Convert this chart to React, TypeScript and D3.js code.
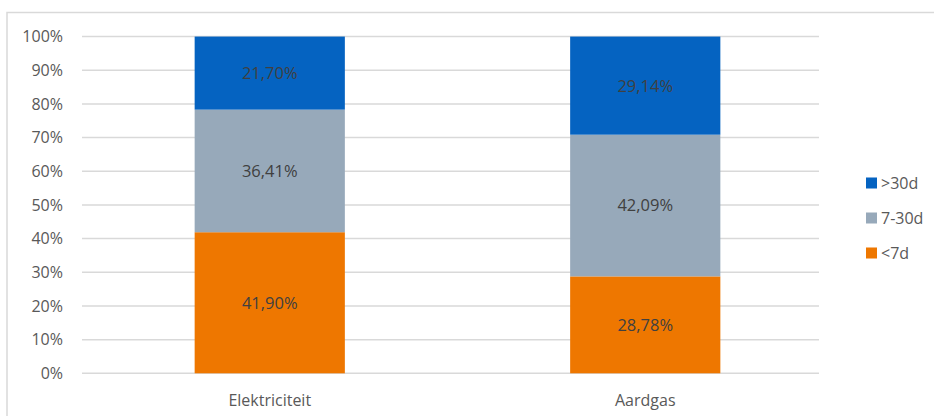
import React from "react";
import * as d3 from "d3";

const categories = ["Elektriciteit", "Aardgas"];
const seriesNames = ["<7d", "7-30d", ">30d"];
const lt7 = [41.9, 28.78];
const d7to30 = [36.41, 42.09];
const gt30 = [21.7, 29.14];
const labelsLt7 = ["41,90%", "28,78%"];
const labels7to30 = ["36,41%", "42,09%"];
const labelsGt30 = ["21,70%", "29,14%"];
const yTicks = [0, 10, 20, 30, 40, 50, 60, 70, 80, 90, 100];
const colors = ["#EE7700", "#97A9BA", "#0563C1"];

const W = 934;
const H = 416;
const FONT = "'Open Sans', sans-serif";

export default function App() {
  const y = d3.scaleLinear().domain([0, 100]).range([373.3, 36.6]);
  const x = d3.scaleBand<string>().domain(categories).range([82, 833]).padding(0);
  const barW = x.bandwidth() * 0.4;
  const gridX1 = 82;
  const gridX2 = 819;

  const seriesVals = [lt7, d7to30, gt30];
  const seriesLabels = [labelsLt7, labels7to30, labelsGt30];

  const rows = categories.map((c, i) => {
    const obj: any = { cat: c };
    seriesNames.forEach((s, k) => (obj[s] = seriesVals[k][i]));
    return obj;
  });
  const stack = d3.stack<any>().keys(seriesNames)(rows);

  const legendOrder = [2, 1, 0];

  return (
    <svg
      width={W}
      height={H}
      style={{ position: "absolute", left: 0, top: 0, background: "#fff" }}
    >
      <rect x={0} y={0} width={W} height={H} fill="#fff" />
      {/* chart frame */}
      <rect x={7} y={12.5} width={W + 10} height={H + 10} fill="none" stroke="#D9D9D9" strokeWidth={1.5} />
      {/* gridlines */}
      {yTicks.map((t) => (
        <line
          key={t}
          x1={gridX1}
          x2={gridX2}
          y1={y(t)}
          y2={y(t)}
          stroke="#D9D9D9"
          strokeWidth={1.5}
        />
      ))}
      {/* y tick labels */}
      {yTicks.map((t) => (
        <text
          key={"l" + t}
          x={63}
          y={y(t)}
          dy="0.36em"
          textAnchor="end"
          fontFamily={FONT}
          fontSize={16}
          fill="#595959"
        >
          {t + "%"}
        </text>
      ))}
      {/* bars */}
      {stack.map((layer, k) => (
        <g key={layer.key}>
          {layer.map((d, i) => {
            const cx = (x(categories[i]) as number) + x.bandwidth() / 2;
            const y0 = y(d[0]);
            const y1 = y(d[1]);
            return (
              <g key={i}>
                <rect x={cx - barW / 2} y={y1} width={barW} height={y0 - y1} fill={colors[k]} />
                <text
                  x={cx}
                  y={(y0 + y1) / 2}
                  dy="0.36em"
                  textAnchor="middle"
                  fontFamily={FONT}
                  fontSize={16.5}
                  fill="#404040"
                >
                  {seriesLabels[k][i]}
                </text>
              </g>
            );
          })}
        </g>
      ))}
      {/* category labels */}
      {categories.map((c) => (
        <text
          key={c}
          x={(x(c) as number) + x.bandwidth() / 2}
          y={400}
          dy="0.36em"
          textAnchor="middle"
          fontFamily={FONT}
          fontSize={16}
          fill="#595959"
        >
          {c}
        </text>
      ))}
      {/* legend */}
      {legendOrder.map((k, j) => {
        const cy = 183 + j * 35;
        return (
          <g key={"lg" + k}>
            <rect x={866} y={cy - 5.5} width={11} height={11} fill={colors[k]} />
            <text
              x={881}
              y={cy}
              dy="0.36em"
              fontFamily={FONT}
              fontSize={16}
              fill="#595959"
            >
              {seriesNames[k]}
            </text>
          </g>
        );
      })}
    </svg>
  );
}
